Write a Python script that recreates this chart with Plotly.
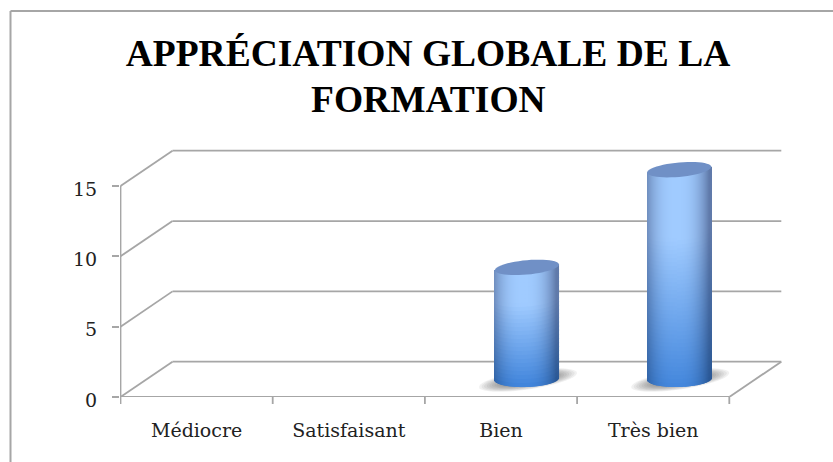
import numpy as np
import plotly.graph_objects as go

categories = ["Médiocre", "Satisfaisant", "Bien", "Très bien"]
values = [0, 0, 8, 15]
y_ticks = [0, 5, 10, 15]
title_line1 = "APPRÉCIATION GLOBALE DE LA"
title_line2 = "FORMATION"

W, H = 833, 462
ML, MR, MT, MB = 120, 48, 130, 65
PX_X = 152.2          # pixels per category
PX_Y = 211.0 / 15     # pixels per value unit
XMIN = -0.5 - 0.5 / PX_X
XMAX = XMIN + (W - ML - MR) / PX_X
YMAX = (H - MT - MB) / PX_Y
DX = 52 / PX_X        # oblique depth on x
DY = 35.3 / PX_Y      # oblique depth on y
FRONT_R = len(categories) - 0.5
PLOT_W = W - ML - MR
PLOT_H = H - MT - MB
DEPTH_SCALE = 0.992   # slight foreshortening of the columns at mid depth

GRID = "#a6a6a6"
TEXT = "#222222"

def lerp(c1, c2, t):
    return tuple(a + (b - a) * t for a, b in zip(c1, c2))

def rgb(c):
    return "rgb(%d,%d,%d)" % tuple(round(v) for v in c)

def ellipse_path(cx, cy, a, b, tilt, n=48):
    th = np.linspace(0, 2 * np.pi, n, endpoint=False)
    xs = cx + a * np.cos(th)
    ys = cy + b * np.sin(th) + tilt * np.cos(th)
    return "M " + " L ".join(f"{x:.4f} {y:.4f}" for x, y in zip(xs, ys)) + " Z"

shapes = []
line = dict(color=GRID, width=1.8)
for t in y_ticks:
    shapes.append(dict(type="line", x0=-0.5, y0=t, x1=-0.5 + DX, y1=t + DY, line=line, layer="below"))
    shapes.append(dict(type="line", x0=-0.5 + DX, y0=t + DY, x1=FRONT_R + DX, y1=t + DY, line=line, layer="below"))
shapes.append(dict(type="line", x0=-0.5, y0=0, x1=FRONT_R, y1=0, line=line, layer="below"))
shapes.append(dict(type="line", x0=-0.5, y0=0, x1=-0.5, y1=y_ticks[-1], line=line, layer="below"))
shapes.append(dict(type="line", x0=FRONT_R, y0=0, x1=FRONT_R + DX, y1=DY, line=line, layer="below"))
for i in range(len(categories) + 1):
    shapes.append(dict(type="line", x0=i - 0.5, x1=i - 0.5, yref="paper", y0=0, y1=-7 / PLOT_H, line=line, layer="below"))
frame = dict(color="#a6a6a6", width=2)
shapes.append(dict(type="line", xref="paper", yref="paper", x0=(10.5 - ML) / PLOT_W, x1=(10.5 - ML) / PLOT_W,
                   y0=(H - MB - H) / PLOT_H, y1=(H - MB - 11) / PLOT_H, line=frame, layer="below"))
shapes.append(dict(type="line", xref="paper", yref="paper", x0=(10.5 - ML) / PLOT_W, x1=(W - ML) / PLOT_W,
                   y0=(H - MB - 11) / PLOT_H, y1=(H - MB - 11) / PLOT_H, line=frame, layer="below"))

A = 32 / PX_X           # cylinder half width
B_BASE = 8 / PX_Y       # base minor semi-axis
B_TOP = 7.2 / PX_Y
TILT = 2.8 / PX_Y       # right end rises
TILT_BASE = 1.0 / PX_Y
BASE_Y = 18 / PX_Y
OFF_X = DX / 2

bx, bbase, bh, bw, bcol = [], [], [], [], []
N_SLICE = 64
SEG = 4 / PX_Y
for i, v in enumerate(values):
    if v <= 0:
        continue
    cx = i + OFF_X
    top = BASE_Y + v * DEPTH_SCALE
    # soft shadow on the floor
    for k in range(12):
        f = 1 - k / 12
        shapes.append(dict(type="path", path=ellipse_path(cx + 1 / PX_X, BASE_Y - 1 / PX_Y, (31 * f + 18) / PX_X,
                                                          (7.5 * f + 2) / PX_Y, (3 + 4 * f) / PX_Y),
                           fillcolor="rgba(80,80,80,0.08)", line=dict(width=0), layer="below"))
    # cylinder body as fine cells with a two-way gradient
    for s in range(N_SLICE):
        t = (s + 0.5) / N_SLICE * 2 - 1
        x = cx + t * A
        arc = np.sqrt(1 - t * t)
        y0 = BASE_Y + TILT_BASE * t - B_BASE * arc
        y1 = top + TILT * t - B_TOP * arc
        h = 1 - min(1, abs(t + 0.08) / 1.02) ** 2.6      # 1 in the middle, 0 on the edge
        n = max(1, int(round((y1 - y0) / SEG)))
        edges = np.linspace(y0, y1, n + 1)
        for j in range(n):
            ym = (edges[j] + edges[j + 1]) / 2
            u = (ym - BASE_Y) / v                        # 0 foot, 1 top of this cylinder
            centre = lerp((72, 138, 222), (160, 203, 255), min(1, u * 1.5))
            edge = lerp((42, 88, 150), (96, 122, 170), min(1, u * 1.4))
            bx.append(x)
            bbase.append(edges[j])
            bh.append(edges[j + 1] - edges[j] + 0.1)
            bw.append(2 * A / N_SLICE * 1.1)
            bcol.append(rgb(lerp(edge, centre, h)))
    shapes.append(dict(type="path", path=ellipse_path(cx, top, A, B_TOP, TILT),
                       fillcolor="#7090c6", line=dict(width=0), layer="above"))

fig = go.Figure(go.Bar(x=bx, y=bh, base=bbase, width=bw,
                       marker=dict(color=bcol, line=dict(width=0)),
                       hoverinfo="skip", showlegend=False))

fig.update_layout(
    width=W, height=H, autosize=False,
    margin=dict(l=ML, r=MR, t=MT, b=MB),
    paper_bgcolor="white", plot_bgcolor="rgba(0,0,0,0)",
    showlegend=False, barmode="overlay",
    shapes=shapes,
    title=dict(text=title_line1, x=428 / W, xanchor="center", y=1 - 66 / H, yanchor="bottom", pad=dict(b=0),
               font=dict(family="Liberation Serif", size=37.5, color="#000000", weight="bold")),
    annotations=[dict(text=title_line2, xref="paper", yref="paper", showarrow=False,
                      x=(428 - ML) / PLOT_W, xanchor="center",
                      y=(H - MB - 111) / PLOT_H, yanchor="bottom", yshift=-11,
                      font=dict(family="Liberation Serif", size=37.5, color="#000000", weight="bold"))],
    xaxis=dict(range=[XMIN, XMAX], tickmode="array", tickvals=list(range(len(categories))), ticktext=categories,
               showgrid=False, zeroline=False, showline=False, ticks="", ticklabelstandoff=20,
               tickfont=dict(family="DejaVu Serif", size=19, color=TEXT)),
    yaxis=dict(range=[0, YMAX], tickmode="array", tickvals=y_ticks, ticktext=[str(t) for t in y_ticks],
               showgrid=False, zeroline=False, showline=False, ticks="outside", ticklen=7, tickwidth=1.8,
               tickcolor=GRID, ticklabelstandoff=11, ticklabelshift=3,
               tickfont=dict(family="DejaVu Serif", size=19, color=TEXT)),
)
fig.write_html("out.html", config=dict(displayModeBar=False),
               post_script="document.body.style.margin='0';document.documentElement.style.overflow='hidden';")
